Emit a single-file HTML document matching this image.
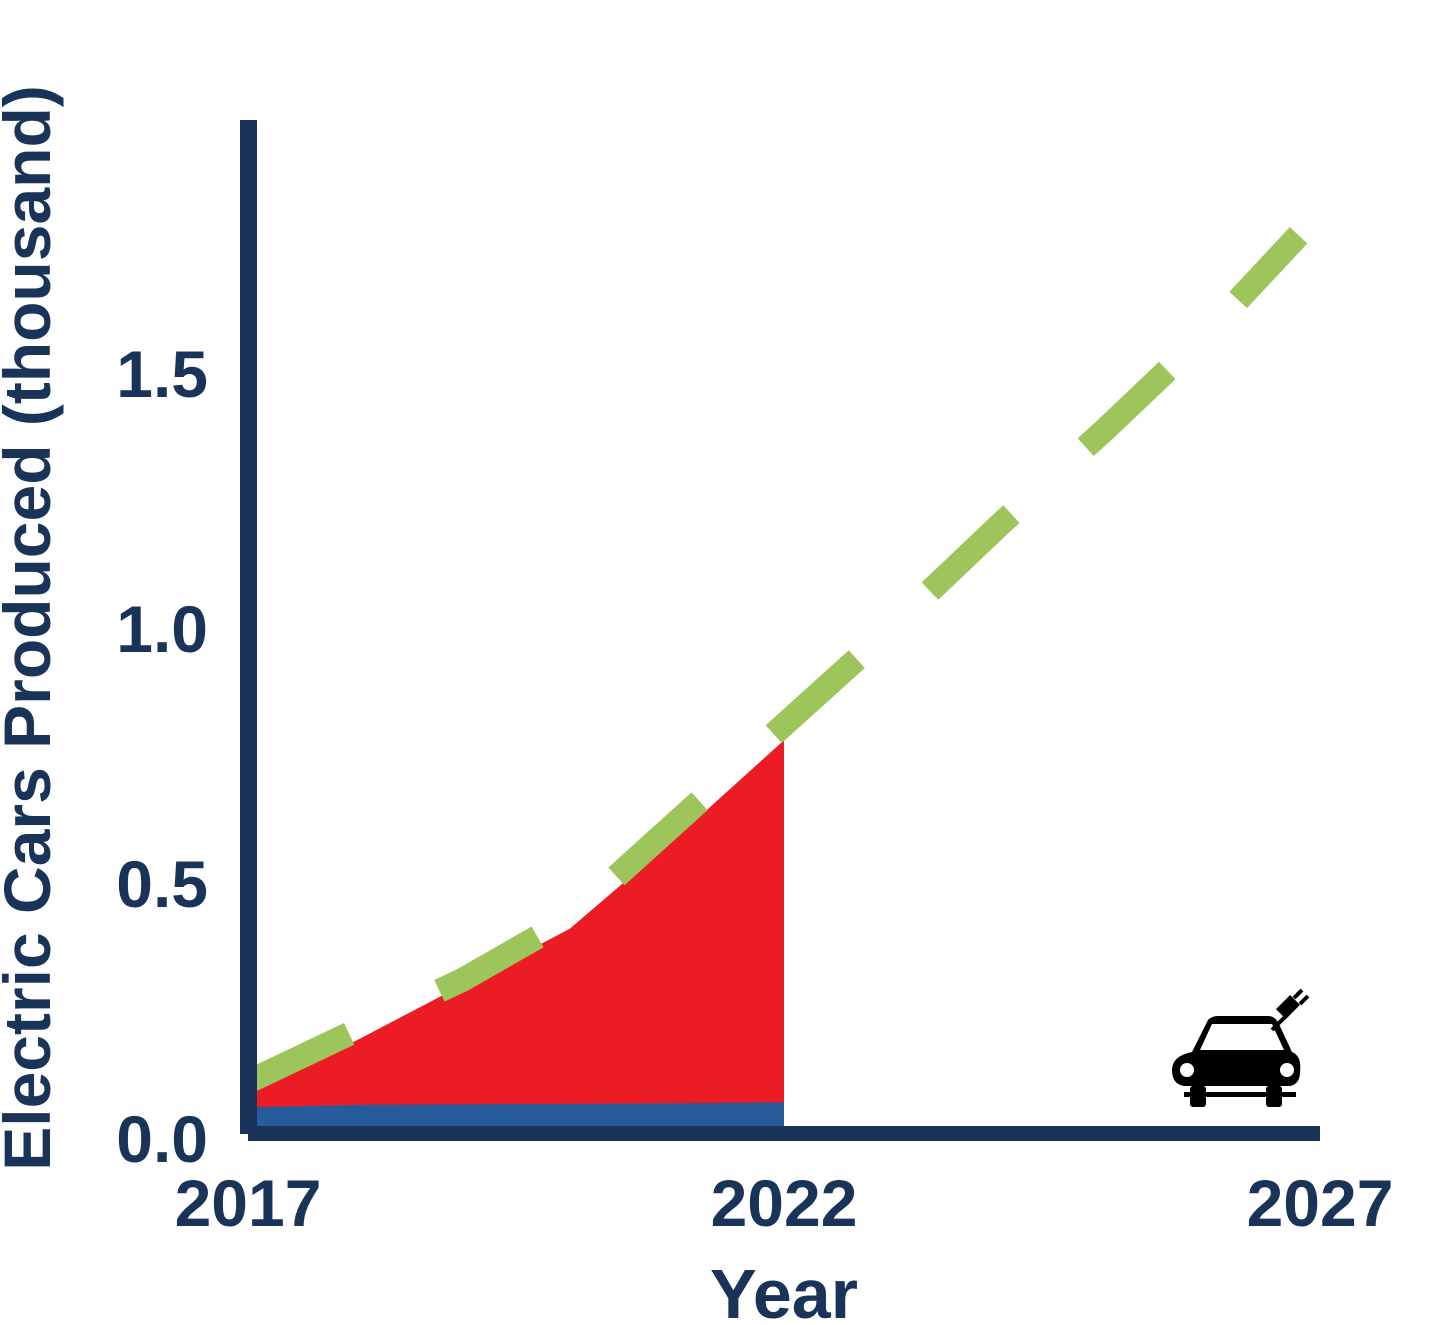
<!DOCTYPE html>
<html><head><meta charset="utf-8"><style>
html,body{margin:0;padding:0;background:#fff;}
svg text{font-family:"Liberation Sans",Arial,sans-serif;font-weight:bold;fill:#1a3358;}
</style></head><body>
<svg id="chart" width="1440" height="1320" xmlns="http://www.w3.org/2000/svg">
<g id="areas"></g>
<g id="lines"></g>
<rect x="240" y="120" width="17" height="1014" fill="#1a3358"/>
<rect x="248" y="1126" width="1072" height="15" fill="#1a3358"/>
<g id="yticks"></g>
<g id="xticks"></g>
<text x="784" y="1318" font-size="70" text-anchor="middle">Year</text>
<text transform="translate(50,628) rotate(-90)" font-size="66" text-anchor="middle">Electric Cars Produced (thousand)</text>
<g fill="#000">
  <path d="M1192,1052 L1208,1020 Q1212,1016 1218,1016 L1268,1016 Q1274,1016 1278,1022 L1292,1052 Q1302,1056 1300,1072 Q1300,1084 1290,1086 L1184,1086 Q1172,1084 1172,1070 Q1172,1056 1192,1052 Z M1200,1050 L1284,1050 L1272,1024 L1212,1024 Z" fill-rule="evenodd"/>
  <circle cx="1187" cy="1070" r="7" fill="#fff"/>
  <circle cx="1287" cy="1070" r="7" fill="#fff"/>
  <rect x="1184" y="1092" width="112" height="5"/>
  <rect x="1190" y="1086" width="16" height="21" rx="3"/>
  <rect x="1266" y="1086" width="16" height="21" rx="3"/>
  <path d="M1272,1030 L1290,1012" stroke="#000" stroke-width="4" fill="none"/>
  <rect x="1281" y="997" width="14" height="20" transform="rotate(45 1288 1007)"/>
  <path d="M1294,998 L1302,990 M1300,1004 L1308,996" stroke="#000" stroke-width="4"/>
</g>
</svg>
<script>
const years=[2017,2018,2019,2020,2021,2022];
const redValues=[0.094,0.19,0.30,0.41,0.59,0.78];
const blueValues=[0.06,0.065,0.066,0.067,0.068,0.07];
const trendYears=[2017,2018,2019,2020,2021,2022,2023,2024,2025,2026,2026.8];
const trendValues=[0.11,0.21,0.31,0.43,0.62,0.81,1.0,1.2,1.39,1.59,1.77];
const yTicks=[0,0.5,1.0,1.5];
const yTickLabels=["0.0","0.5","1.0","1.5"];
const xTicks=[2017,2022,2027];
const xTickLabels=["2017","2022","2027"];
const NS="http://www.w3.org/2000/svg";
function x(yr){return 248+(yr-2017)*107.2;}
function y(v){return 1138-v*510;}
const base=1126;
function areaPath(vals){
  let d="M"+x(years[0])+","+base;
  years.forEach((yr,i)=>{d+=" L"+x(yr)+","+Math.min(y(vals[i]),base);});
  d+=" L"+x(years[years.length-1])+","+base+" Z";return d;
}
const areas=document.getElementById('areas');
const red=document.createElementNS(NS,'path');
red.setAttribute('d',areaPath(redValues));red.setAttribute('fill','#ec1c24');


areas.appendChild(red);
const blue=document.createElementNS(NS,'path');
blue.setAttribute('d',areaPath(blueValues));blue.setAttribute('fill','#275b9c');


areas.appendChild(blue);
const line=document.createElementNS(NS,'polyline');
line.setAttribute('points',trendYears.map((yr,i)=>x(yr)+","+y(trendValues[i])).join(" "));
line.setAttribute('fill','none');line.setAttribute('stroke','#9dc55b');
line.setAttribute('stroke-width','24');line.setAttribute('stroke-dasharray','112 100');


document.getElementById('lines').appendChild(line);
const yt=document.getElementById('yticks');
yTicks.forEach((v,i)=>{const t=document.createElementNS(NS,'text');
t.setAttribute('x',208);t.setAttribute('y',y(v)+24);t.setAttribute('font-size','66');t.setAttribute('text-anchor','end');
t.textContent=yTickLabels[i];


yt.appendChild(t);});
const xt=document.getElementById('xticks');
xTicks.forEach((v,i)=>{const t=document.createElementNS(NS,'text');
t.setAttribute('x',x(v));t.setAttribute('y',1226);t.setAttribute('font-size','66');t.setAttribute('text-anchor','middle');
t.textContent=xTickLabels[i];


xt.appendChild(t);});
</script>
</body></html>
